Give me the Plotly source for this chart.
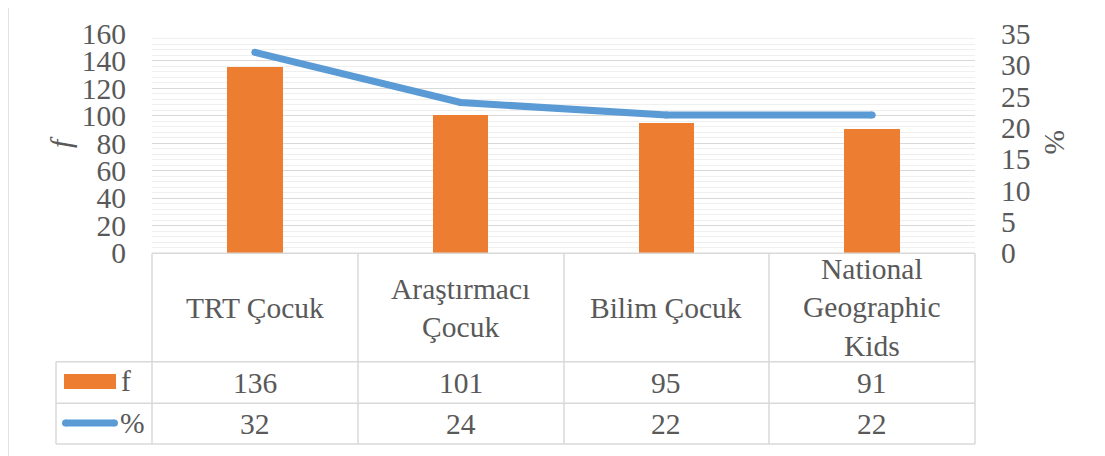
import plotly.graph_objects as go

# ---- data ----
categories = ["TRT Çocuk", "Araştırmacı Çocuk", "Bilim Çocuk", "National Geographic Kids"]
table_labels = ["TRT Çocuk", "Araştırmacı<br>Çocuk", "Bilim Çocuk", "National<br>Geographic<br>Kids"]
f_values = [136, 101, 95, 91]
pct_values = [32, 24, 22, 22]
left_ticks = [0, 20, 40, 60, 80, 100, 120, 140, 160]
right_ticks = [0, 5, 10, 15, 20, 25, 30, 35]

# page body has an 8px margin, so the figure is placed at (8, 8)
OFF = 8
W, H = 1097, 448
FONT = "Liberation Serif"
TXT = "#595959"
GRID = "#d9d9d9"
ORANGE = "#ED7D31"
BLUE = "#5B9BD5"
FS = 29.5


def px(x):
    return (x - OFF) / W


def py(y):
    return 1 - (y - OFF) / H


fig = go.Figure()
fig.add_trace(go.Bar(x=categories, y=f_values, name="f", marker_color=ORANGE,
                     width=0.27, yaxis="y"))
fig.add_trace(go.Scatter(x=categories, y=pct_values, name="%", mode="lines+markers",
                         line=dict(color=BLUE, width=7),
                         marker=dict(color=BLUE, size=7), yaxis="y2"))

tick_font = dict(family=FONT, size=FS, color=TXT)
fig.update_layout(
    template="none",
    width=W, height=H,
    autosize=False,
    margin=dict(l=0, r=0, t=0, b=0, pad=0),
    font=dict(family=FONT, color=TXT),
    paper_bgcolor="white", plot_bgcolor="white",
    showlegend=False,
    bargap=0,
    xaxis=dict(domain=[px(152), px(975)], range=[-0.5, 3.5], showticklabels=False,
               showgrid=False, zeroline=False, showline=False, ticks="", automargin=False),
    yaxis=dict(domain=[py(253), py(33.5)], range=[0, 160], tickvals=left_ticks,
               showgrid=True, gridcolor=GRID, gridwidth=1.3, zeroline=False, showline=False,
               ticks="", tickfont=tick_font, ticklabelstandoff=25, automargin=False,
               minor=dict(dtick=4, tick0=0, showgrid=True, gridcolor="#efefef", gridwidth=1)),
    yaxis2=dict(overlaying="y", side="right", range=[0, 35], tickvals=right_ticks,
                showgrid=False, zeroline=False, showline=False, ticks="", tickfont=tick_font,
                ticklabelstandoff=25, anchor="x", automargin=False),
)

shapes = []
# outer chart border
shapes.append(dict(type="rect", xref="paper", yref="paper", x0=px(8), x1=px(1104),
                   y0=py(470), y1=py(4), line=dict(color=GRID, width=1.5)))

# data table grid
line_style = dict(color=GRID, width=1.5)
col_x = [152, 358, 564, 769, 975]
y_top, y_f, y_p, y_bot = 253.3, 361.7, 403.3, 444
shapes.append(dict(type="line", xref="paper", yref="paper", x0=px(152), x1=px(975),
                   y0=py(y_top), y1=py(y_top), line=line_style))
for yy in (y_f, y_p, y_bot):
    shapes.append(dict(type="line", xref="paper", yref="paper", x0=px(56), x1=px(975),
                       y0=py(yy), y1=py(yy), line=line_style))
shapes.append(dict(type="line", xref="paper", yref="paper", x0=px(56), x1=px(56),
                   y0=py(y_f), y1=py(y_bot), line=line_style))
for xx in col_x:
    shapes.append(dict(type="line", xref="paper", yref="paper", x0=px(xx), x1=px(xx),
                       y0=py(y_top), y1=py(y_bot), line=line_style))

# legend keys inside table
shapes.append(dict(type="rect", xref="paper", yref="paper", x0=px(64), x1=px(116),
                   y0=py(389), y1=py(374), fillcolor=ORANGE, line=dict(width=0)))
shapes.append(dict(type="rect", xref="paper", yref="paper", x0=px(65.5), x1=px(114.5),
                   y0=py(426.5), y1=py(419.5), fillcolor=BLUE, line=dict(width=0)))
for cx in (65.5, 114.5):
    shapes.append(dict(type="circle", xref="paper", yref="paper", x0=px(cx - 3.5), x1=px(cx + 3.5),
                       y0=py(426.5), y1=py(419.5), fillcolor=BLUE, line=dict(width=0)))
fig.update_layout(shapes=shapes)

cell_font = dict(family=FONT, size=FS, color=TXT)
ann = []
for cat, lab, fv, pv in zip(categories, table_labels, f_values, pct_values):
    ann.append(dict(x=cat, xref="x", y=py((y_top + y_f) / 2), yref="paper", text=lab,
                    showarrow=False, font=cell_font, xanchor="center", yanchor="middle"))
    ann.append(dict(x=cat, xref="x", y=py((y_f + y_p) / 2), yref="paper", text=str(fv),
                    showarrow=False, font=cell_font, xanchor="center", yanchor="middle"))
    ann.append(dict(x=cat, xref="x", y=py((y_p + y_bot) / 2), yref="paper", text=str(pv),
                    showarrow=False, font=cell_font, xanchor="center", yanchor="middle"))
ann.append(dict(x=px(119), xref="paper", y=py(381), yref="paper", text="f", showarrow=False,
                font=cell_font, xanchor="left", yanchor="middle"))
ann.append(dict(x=px(118), xref="paper", y=py(423), yref="paper", text="%", showarrow=False,
                font=cell_font, xanchor="left", yanchor="middle"))
# axis titles
ann.append(dict(x=px(61), xref="paper", y=py(142), yref="paper", text="<i>f</i>", showarrow=False,
                font=cell_font, textangle=-90, xanchor="center", yanchor="middle"))
ann.append(dict(x=px(1055), xref="paper", y=py(142), yref="paper", text="%", showarrow=False,
                font=cell_font, textangle=90, xanchor="center", yanchor="middle"))
fig.update_layout(annotations=ann)

fig.write_html("out.html")
